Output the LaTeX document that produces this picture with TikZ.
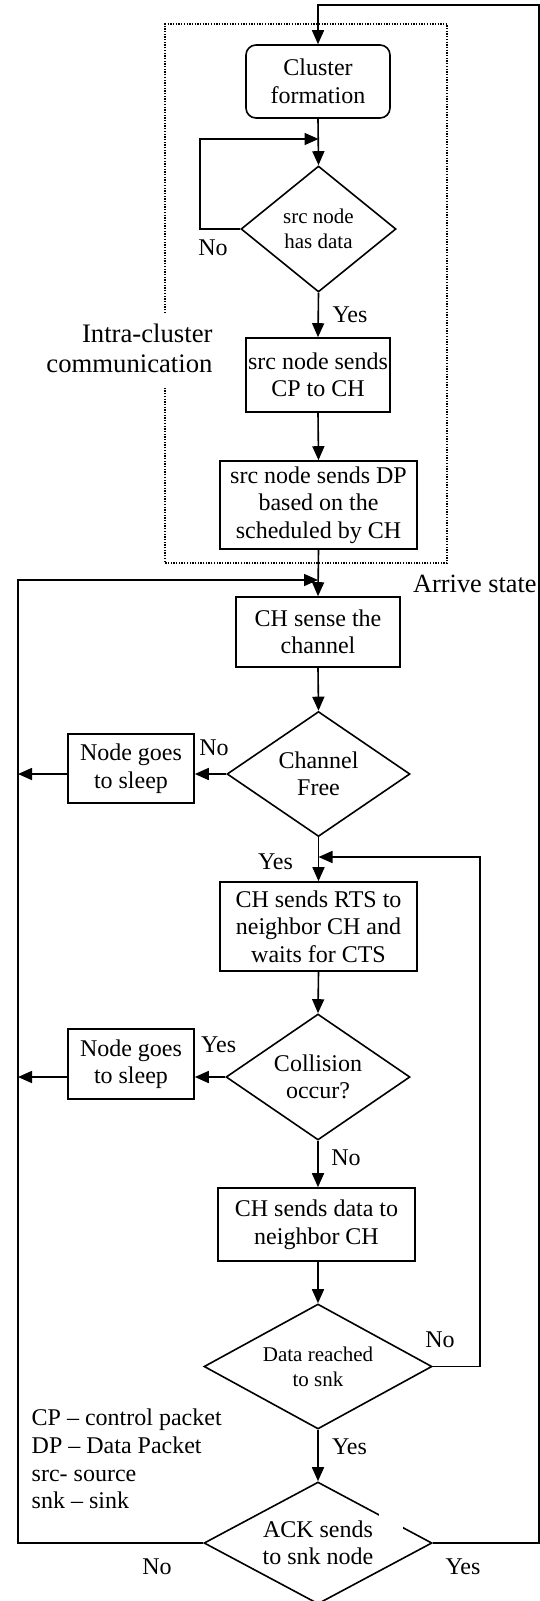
\documentclass[tikz,border=0pt]{standalone}
\usepackage{fontspec}
\setmainfont{Liberation Serif}
\usetikzlibrary{shapes.geometric,arrows.meta}
\begin{document}
\begin{tikzpicture}[x=1pt,y=-1pt,
  every node/.style={font=\fontsize{24}{27.5}\selectfont},
  box/.style={draw,line width=1.6pt,rectangle,inner sep=0pt,align=center},
  dia/.style={draw,line width=1.6pt,shape=diamond,inner sep=0pt,align=center},
  small/.style={font=\fontsize{21}{25}\selectfont},
  arr/.style={line width=1.6pt,-{Triangle[length=14pt,width=12pt]}},
  lbl/.style={inner sep=0pt},
  dots/.style={line width=1.3pt,dash pattern=on 1.3pt off 1.4pt}
]
\useasboundingbox (0,0) rectangle (540,1601);

% dotted frame of the intra-cluster part
\draw[dots] (165,313) -- (165,24) -- (447,24) -- (447,563) -- (165,563) -- (165,388);

% nodes
\node[box,rounded corners=10pt,minimum width=144pt,minimum height=73pt] (cf) at (318,81.5) {Cluster\\formation};
\node[dia,small,aspect=1.23,minimum width=155pt,minimum height=126pt] (d1) at (318.5,229) {src node\\has data};
\node[box,minimum width=144.5pt,minimum height=74pt] (b2) at (318,375) {src node sends\\CP to CH};
\node[box,minimum width=197pt,minimum height=88pt] (b3) at (318.5,505) {src node sends DP\\based on the\\scheduled by CH};
\node[box,minimum width=164pt,minimum height=70pt] (b4) at (318,632) {CH sense the\\channel};
\node[dia,aspect=1.464,minimum width=183pt,minimum height=125pt] (d2) at (318.5,774) {Channel\\Free};
\node[box,minimum width=126pt,minimum height=69pt] (s1) at (131,768.5) {Node goes\\to sleep};
\node[box,minimum width=197pt,minimum height=89pt] (b5) at (318.5,926.5) {CH sends RTS to\\neighbor CH and\\waits for CTS};
\node[dia,aspect=1.46,minimum width=184pt,minimum height=126pt] (d3) at (318,1077) {Collision\\occur?};
\node[box,minimum width=126pt,minimum height=70pt] (s2) at (131,1064) {Node goes\\to sleep};
\node[box,minimum width=197pt,minimum height=73pt] (b6) at (316.5,1224.5) {CH sends data to\\neighbor CH};
\node[dia,small,aspect=1.82,minimum width=228pt,minimum height=125pt] (d4) at (318,1366.5) {Data reached\\to snk};
\node[dia,aspect=1.87,minimum width=228pt,minimum height=122pt] (d5) at (318,1543) {ACK sends\\to snk node};
\fill[white] (379,1511) rectangle (403,1530);

% corner coordinates
\coordinate (L1) at (200,139);
\coordinate (Ltop) at (18,580);
\coordinate (R2) at (480,857);
\coordinate (Rtop) at (539,5);

% connectors
\draw[arr] (cf.south) -- (d1.north);
\draw[arr] (d1.west) -| (L1) -- (L1 -| d1.north);
\draw[arr] (d1.south) -- (b2.north);
\draw[arr] (b2.south) -- (b3.north);
\draw[arr] (b3.south) -- (b4.north);
\draw[arr] (d5.west) -| (Ltop) -- (Ltop -| b4.north);
\draw[arr] (b4.south) -- (d2.north);
\draw[arr] (d2.west) -- (d2.west -| s1.east);
\draw[arr] (s1.west |- d2.west) -- (Ltop |- d2.west);
\draw[arr] (d2.south) -- (b5.north);
\draw[arr] (d4.east) -| (R2) -- (R2 -| b5.north);
\draw[arr] (b5.south) -- (d3.north);
\draw[arr] (d3.west) -- (d3.west -| s2.east);
\draw[arr] (s2.west |- d3.west) -- (Ltop |- d3.west);
\draw[arr] (d3.south) -- (d3.south |- b6.north);
\draw[arr] (b6.south -| d4.north) -- (d4.north);
\draw[arr] (d4.south) -- (d5.north);
\draw[arr] (d5.east) -| (Rtop) -- (Rtop -| cf.north) -- (cf.north);

% labels
\node[lbl] (n1) at (213,248) {No};
\node[lbl] (y1) at (350,315) {Yes};
\node[lbl,anchor=east,align=right,font=\fontsize{26.7}{30}\selectfont] (intra) at (212.7,348) {Intra-cluster\\communication};
\node[lbl,anchor=base west,font=\fontsize{26.3}{30}\selectfont] (arrive) at (413,592) {Arrive state};
\node[lbl] (n2) at (214,748) {No};
\node[lbl] (y2) at (275.5,862) {Yes};
\node[lbl] (y3) at (218.7,1045) {Yes};
\node[lbl] (n3) at (346,1158) {No};
\node[lbl] (n4) at (440,1340) {No};
\node[lbl] (y4) at (349.5,1447) {Yes};
\node[lbl] (n5) at (157,1567) {No};
\node[lbl] (y5) at (463,1567) {Yes};

% legend
\node[lbl,anchor=base west] (leg1) at (31.5,1425) {CP – control packet};
\node[lbl,anchor=base west] (leg2) at (31.5,1453) {DP – Data Packet};
\node[lbl,anchor=base west] (leg3) at (31.5,1481) {src- source};
\node[lbl,anchor=base west] (leg4) at (31.5,1508) {snk – sink};
\end{tikzpicture}
\end{document}
